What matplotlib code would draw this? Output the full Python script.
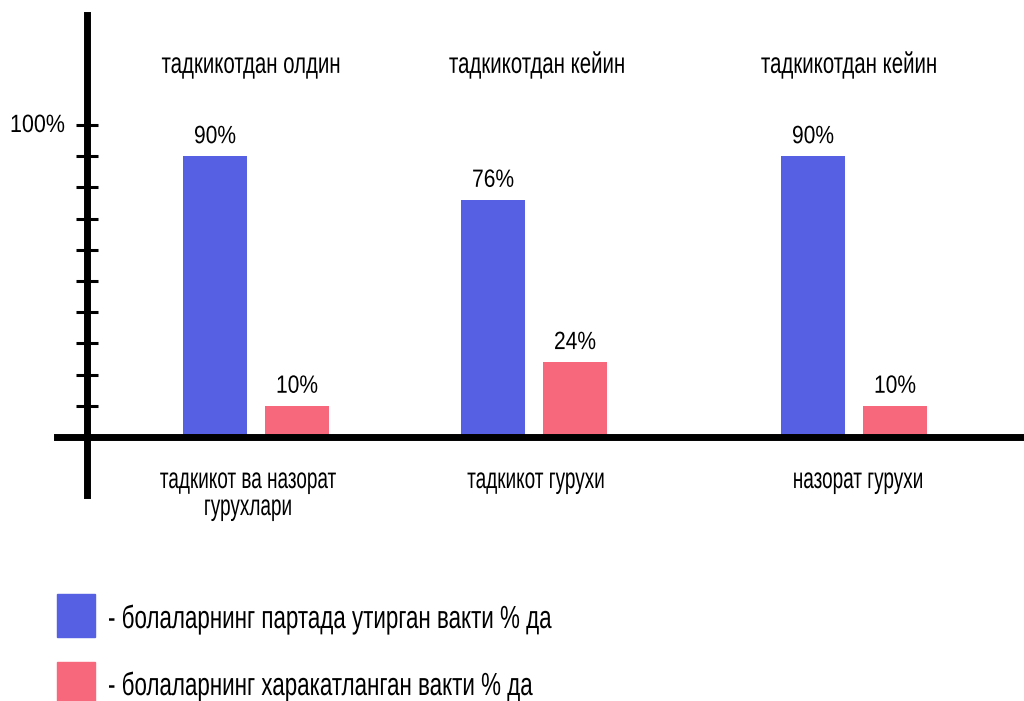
import matplotlib.pyplot as plt
import matplotlib.patheffects as pe
from matplotlib.patches import Rectangle
from matplotlib.transforms import Affine2D

plt.rcParams['font.family'] = ['Liberation Sans', 'DejaVu Sans']

# data
groups = ['тадкикот ва назорат\nгурухлари', 'тадкикот гурухи', 'назорат гурухи']
titles = ['тадкикотдан олдин', 'тадкикотдан кейин', 'тадкикотдан кейин']
sitting = [90, 76, 90]   # % time sitting at the desk
moving = [10, 24, 10]    # % time moving
legend_labels = ['- болаларнинг партада утирган вакти % да',
                 '- болаларнинг харакатланган вакти % да']

blue = '#5560E3'
red = '#F8687D'

# layout (x in pixels across the figure)
centers = [256, 534, 854]
title_dx = [-5, 3, -5]
label_dx = [-8, 2, 4]
bar_w = 64
off = 41
px = 3.12  # pixels per percent on the y axis


class Narrow(pe.AbstractPathEffect):
    """Squeeze a text horizontally around its anchor point (condensed look)."""

    def __init__(self, txt, sx):
        super().__init__()
        self.txt = txt
        self.sx = sx

    def draw_path(self, renderer, gc, tpath, affine, rgbFace=None):
        cx = self.txt.get_transform().transform(self.txt.get_position())[0]
        sq = affine + Affine2D().translate(-cx, 0).scale(self.sx, 1).translate(cx, 0)
        renderer.draw_path(gc, tpath, sq, rgbFace)


def narrow(txt, sx=0.7):
    txt.set_path_effects([Narrow(txt, sx)])
    return txt


fig = plt.figure(figsize=(10.24, 7.01), dpi=100)
ax = fig.add_axes([0, 0, 1, 1])
ax.set_xlim(0, 1024)
ax.set_ylim(-264 / px, 437 / px)

for c, s, m in zip(centers, sitting, moving):
    b1 = ax.bar(c - off, s, width=bar_w, color=blue)
    b2 = ax.bar(c + off, m, width=bar_w, color=red)
    for b, v in ((b1, s), (b2, m)):
        t = ax.annotate(f'{v}%', (b[0].get_x() + bar_w / 2, v), xytext=(0, 9.4),
                        textcoords='offset points', ha='center', va='baseline',
                        fontsize=18)
        narrow(t, 0.84)

for c, dx, t in zip(centers, title_dx, titles):
    narrow(ax.text(c + dx, 116.7, t, ha='center', va='baseline', fontsize=21), 0.70)
for c, dx, g in zip(centers, label_dx, groups):
    for k, line in enumerate(g.split('\n')):
        narrow(ax.text(c + dx, -16.35 - k * 27 / px, line, ha='center',
                       va='baseline', fontsize=21), 0.65)

# axes lines
for side in ['top', 'right']:
    ax.spines[side].set_visible(False)
ax.spines['left'].set_position(('data', 87))
ax.spines['left'].set_bounds(-18.6, 135.3)
ax.spines['bottom'].set_position(('data', 0))
ax.spines['bottom'].set_bounds(57, 1024)
ax.spines['left'].set_linewidth(5)
ax.spines['bottom'].set_linewidth(5)
ax.spines['left'].set_zorder(3)
ax.spines['bottom'].set_zorder(3)

ax.set_xticks([])
ax.set_yticks(range(10, 101, 10))
ax.set_yticklabels([])
ax.tick_params(axis='y', direction='inout', length=16, width=2.2)
narrow(ax.text(65, 100, '100%', ha='right', va='center', fontsize=18), 0.86)

# legend
for i, (col, lab) in enumerate(zip([blue, red], legend_labels)):
    y0 = 701 - 637 - i * 68
    fig.patches.append(Rectangle((57 / 1024, y0 / 701), 38 / 1024, 43 / 701,
                                 transform=fig.transFigure, color=col))
    narrow(fig.text(108 / 1024, (701 - 628 - i * 67) / 701, lab, ha='left',
                    va='baseline', fontsize=23), 0.70)

fig.savefig('out.png', dpi=100, facecolor='white')
